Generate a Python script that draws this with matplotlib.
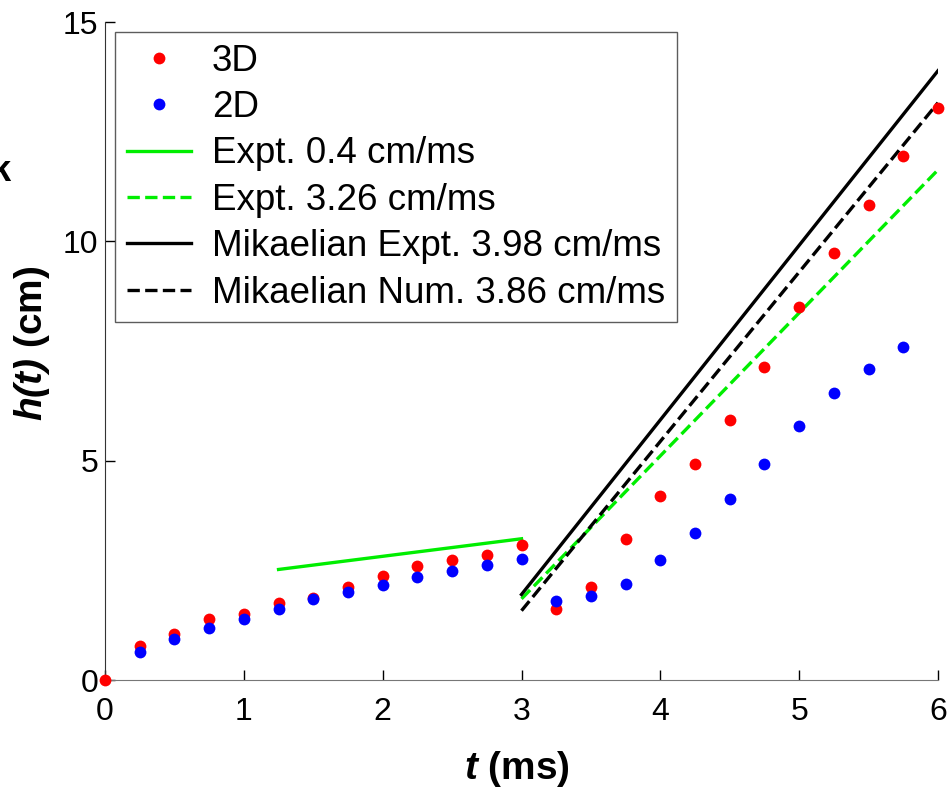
import numpy as np
import matplotlib.pyplot as plt

plt.rcParams['font.family'] = ['Liberation Sans', 'DejaVu Sans']
plt.rcParams['mathtext.fontset'] = 'custom'
plt.rcParams['mathtext.rm'] = 'Liberation Sans'
plt.rcParams['mathtext.bf'] = 'Liberation Sans:bold'
plt.rcParams['mathtext.bfit'] = 'Liberation Sans:italic:bold'

# simulation data
t_3d = np.arange(0, 6.01, 0.25)
h_3d = [0.0, 0.78, 1.04, 1.39, 1.51, 1.76, 1.88, 2.13, 2.37, 2.60, 2.74, 2.86, 3.08,
        1.61, 2.11, 3.21, 4.19, 4.92, 5.93, 7.14, 8.50, 9.73, 10.83, 11.94, 13.05]
t_2d = np.arange(0.25, 5.76, 0.25)
h_2d = [0.63, 0.93, 1.18, 1.40, 1.61, 1.84, 2.01, 2.16, 2.34, 2.49, 2.63, 2.77,
        1.80, 1.91, 2.19, 2.73, 3.36, 4.13, 4.92, 5.79, 6.54, 7.08, 7.60]

# fitted / experimental lines
t_slow = [1.25, 3.0]
h_slow = [2.52, 3.22]
t_fast = [3.0, 6.0]
h_expt = [1.85, 11.63]
h_mik_expt = [1.95, 13.89]
h_mik_num = [1.58, 13.16]

fig = plt.figure(figsize=(9.52, 7.92), dpi=100)
ax = fig.add_axes([0.1103, 0.1414, 0.875, 0.8308])

ax.plot(t_3d, h_3d, 'o', color='#ff0000', ms=8.5, mec='none', label='3D', clip_on=False, zorder=3)
ax.plot(t_2d, h_2d, 'o', color='#0000ff', ms=8.5, mec='none', label='2D', clip_on=False, zorder=4)
ax.plot(t_slow, h_slow, '-', color='#00ee00', lw=2.4, label='Expt. 0.4 cm/ms')
ax.plot(t_fast, h_expt, '--', color='#00ee00', lw=2.4, label='Expt. 3.26 cm/ms')
ax.plot(t_fast, h_mik_expt, '-', color='black', lw=2.4, label='Mikaelian Expt. 3.98 cm/ms')
ax.plot(t_fast, h_mik_num, '--', color='black', lw=2.4, label='Mikaelian Num. 3.86 cm/ms')

ax.set_xlim(0, 6)
ax.set_ylim(0, 15)
ax.set_xticks(range(7))
ax.set_yticks([0, 5, 10, 15])
ax.tick_params(direction='in', labelsize=23, length=7, width=1)
ax.tick_params(axis='x', pad=12)
ax.tick_params(axis='y', pad=5)
ax.spines['top'].set_visible(False)
ax.spines['right'].set_visible(False)
ax.spines['left'].set_color('#333333')
ax.spines['bottom'].set_color('#777777')

ax.set_xlabel(r'$\mathbfit{t}$ (ms)', fontsize=28, fontweight='bold', va='top')
ax.set_ylabel(r'$\mathbfit{h(t)}$ (cm)', fontsize=28, fontweight='bold')
ax.xaxis.set_label_coords(0.495, -0.105)
ax.yaxis.set_label_coords(-0.064, 0.512)

leg = ax.legend(loc='upper left', bbox_to_anchor=(0.012, 0.985), fontsize=26.5, frameon=True,
                fancybox=False, edgecolor='#333333', handlelength=1.74, handletextpad=0.57,
                labelspacing=0.31, borderpad=0.32, borderaxespad=0)
leg.get_frame().set_linewidth(1)

fig.text(0.011, 0.784, 'k', fontsize=26, fontweight='bold', ha='right', va='center')

fig.savefig('out.png', dpi=100)
